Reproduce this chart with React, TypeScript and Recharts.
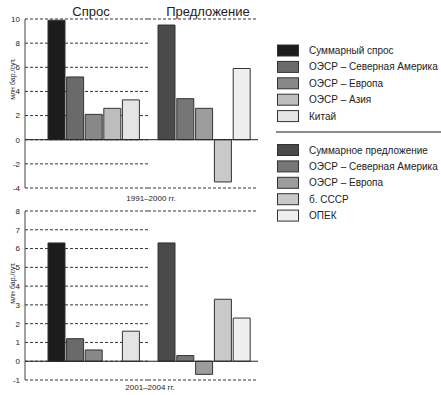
import React from 'react';
import { BarChart, Bar, XAxis, YAxis, CartesianGrid, ReferenceLine, Cell } from 'recharts';

const demandCategories = ['Суммарный спрос', 'ОЭСР – Северная Америка', 'ОЭСР – Европа', 'ОЭСР – Азия', 'Китай'];
const supplyCategories = ['Суммарное предложение', 'ОЭСР – Северная Америка', 'ОЭСР – Европа', 'б. СССР', 'ОПЕК'];

const demand1991 = [9.9, 5.2, 2.1, 2.6, 3.3];
const supply1991 = [9.5, 3.4, 2.6, -3.5, 5.9];
const demand2001 = [6.3, 1.2, 0.6, 0, 1.6];
const supply2001 = [6.3, 0.3, -0.7, 3.3, 2.3];

const demandColors = ['#1c1c1c', '#6a6a6a', '#888888', '#bdbdbd', '#e4e4e4'];
const supplyColors = ['#4a4a4a', '#767676', '#9c9c9c', '#c9c9c9', '#eeeeee'];

const panelTitles = ['Спрос', 'Предложение'];
const periodLabels = ['1991–2000 гг.', '2001–2004 гг.'];
const yAxisLabel = 'млн бар./сут.';

const ticksTop = [-4, -2, 0, 2, 4, 6, 8, 10];
const ticksBottom = [-1, 0, 1, 2, 3, 4, 5, 6, 7, 8];

const FONT = '"Liberation Sans", Arial, sans-serif';

type PanelProps = {
  names: string[];
  values: number[];
  colors: string[];
  ticks: number[];
  showY: boolean;
  left: number;
  top: number;
  width: number;
  height: number;
  mTop: number;
  mBottom: number;
  padL: number;
  padR: number;
};

function Panel(p: PanelProps) {
  const data = p.names.map((name, i) => ({ name, value: p.values[i] }));
  const domain: [number, number] = [p.ticks[0], p.ticks[p.ticks.length - 1]];
  return (
    <div style={{ position: 'absolute', left: p.left, top: p.top }}>
      <BarChart
        width={p.width}
        height={p.height}
        data={data}
        margin={{ top: p.mTop, right: 0, bottom: p.mBottom, left: 0 }}
        barSize={17}
      >
        <CartesianGrid vertical={false} stroke="#333" strokeDasharray="3 2" />
        <XAxis dataKey="name" hide padding={{ left: p.padL, right: p.padR }} />
        <YAxis
          type="number"
          domain={domain}
          ticks={p.ticks}
          interval={0}
          width={p.showY ? 25 : 0}
          tick={p.showY ? { fontSize: 8, fill: '#222', fontFamily: FONT } : false}
          tickLine={false}
          tickSize={3}
          tickMargin={2}
          axisLine={{ stroke: '#444', strokeWidth: 1 }}
        />
        <ReferenceLine y={0} stroke="#222" strokeWidth={1} />
        <Bar dataKey="value" isAnimationActive={false} stroke="#333" strokeWidth={1}>
          {data.map((d, i) => (
            <Cell key={d.name} fill={p.colors[i]} />
          ))}
        </Bar>
      </BarChart>
    </div>
  );
}

const legendTop1 = 50.5;
const legendTop2 = 150;
const legendStep = 16.4;

export default function App() {
  return (
    <div style={{ position: 'absolute', left: 0, top: 0, width: 441, height: 395, background: '#fff', fontFamily: FONT }}>
      <Panel names={demandCategories} values={demand1991} colors={demandColors} ticks={ticksTop} showY
        left={0} top={0} width={148} height={200} mTop={19} mBottom={12} padL={22} padR={8} />
      <Panel names={supplyCategories} values={supply1991} colors={supplyColors} ticks={ticksTop} showY={false}
        left={148} top={0} width={110} height={200} mTop={19} mBottom={12} padL={9} padR={7} />
      <Panel names={demandCategories} values={demand2001} colors={demandColors} ticks={ticksBottom} showY
        left={0} top={200} width={148} height={195} mTop={11} mBottom={15} padL={22} padR={8} />
      <Panel names={supplyCategories} values={supply2001} colors={supplyColors} ticks={ticksBottom} showY={false}
        left={148} top={200} width={110} height={195} mTop={11} mBottom={15} padL={9} padR={7} />
      <svg width={441} height={395} style={{ position: 'absolute', left: 0, top: 0, pointerEvents: 'none' }}>
        <text x={91} y={15.5} textAnchor="middle" fontSize={13} fill="#222" fontFamily={FONT}>{panelTitles[0]}</text>
        <text x={208} y={15.5} textAnchor="middle" fontSize={13} fill="#222" fontFamily={FONT}>{panelTitles[1]}</text>
        <text x={151} y={201} textAnchor="middle" fontSize={8} fill="#222" fontFamily={FONT}>{periodLabels[0]}</text>
        <text x={150} y={389.5} textAnchor="middle" fontSize={8} fill="#222" fontFamily={FONT}>{periodLabels[1]}</text>
        <text transform="translate(14.5,79) rotate(-90)" textAnchor="middle" fontSize={7} fill="#222" fontFamily={FONT}>{yAxisLabel}</text>
        <text transform="translate(14.5,283) rotate(-90)" textAnchor="middle" fontSize={7} fill="#222" fontFamily={FONT}>{yAxisLabel}</text>
        {demandCategories.map((name, i) => {
          const cy = legendTop1 + i * legendStep;
          return (
            <g key={'d' + i}>
              <rect x={277.5} y={cy - 5.5} width={21} height={11} fill={demandColors[i]} stroke="#333" />
              <text x={309} y={cy + 3.5} fontSize={10} fill="#222" fontFamily={FONT}>{name}</text>
            </g>
          );
        })}
        <line x1={276} x2={441} y1={132} y2={132} stroke="#666" strokeWidth={1.5} />
        {supplyCategories.map((name, i) => {
          const cy = legendTop2 + i * legendStep;
          return (
            <g key={'s' + i}>
              <rect x={277.5} y={cy - 5.5} width={21} height={11} fill={supplyColors[i]} stroke="#333" />
              <text x={309} y={cy + 3.5} fontSize={10} fill="#222" fontFamily={FONT}>{name}</text>
            </g>
          );
        })}
      </svg>
    </div>
  );
}
